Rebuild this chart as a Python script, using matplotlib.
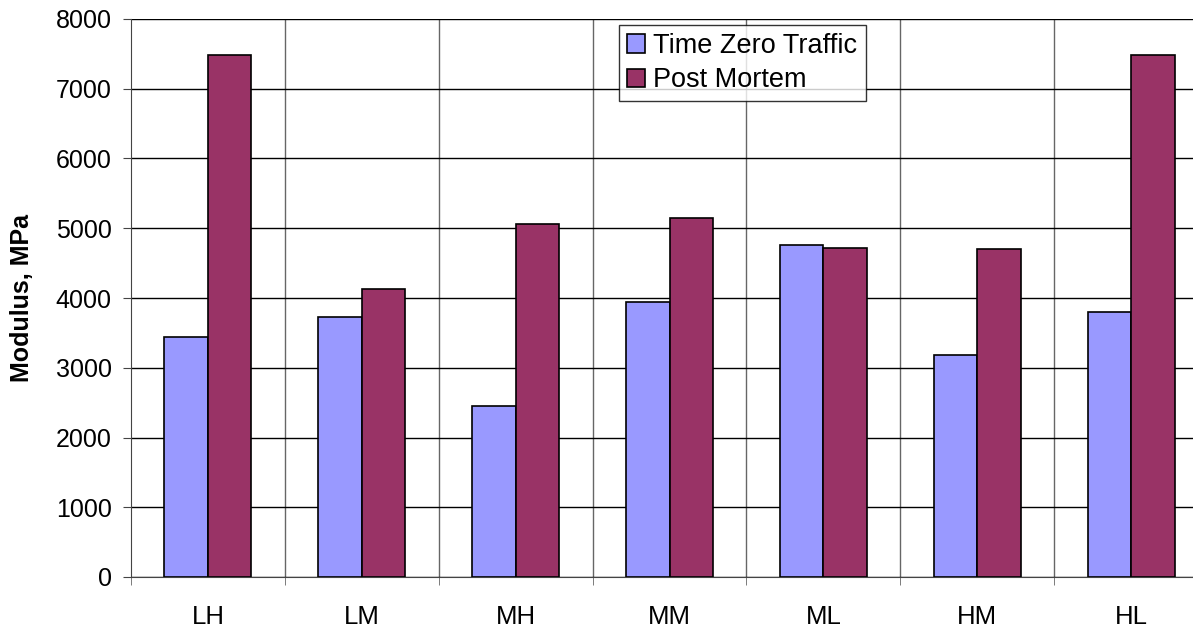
import matplotlib
matplotlib.use("Agg")
import matplotlib.pyplot as plt
import numpy as np

categories = ["LH", "LM", "MH", "MM", "ML", "HM", "HL"]
time_zero = [3445, 3730, 2450, 3940, 4755, 3180, 3795]
post_mortem = [7485, 4135, 5060, 5140, 4715, 4700, 7485]
series_names = ["Time Zero Traffic", "Post Mortem"]
colors = ["#9999FF", "#993366"]

plt.rcParams['font.family'] = ['Liberation Sans', 'DejaVu Sans']

fig = plt.figure(figsize=(11.93, 6.31), dpi=100)
ax = fig.add_axes([131/1193, 54/631, 1077/1193, 558/631])

x = np.arange(len(categories))
w = 0.283
ax.bar(x - w/2, time_zero, w, color=colors[0], edgecolor="black", linewidth=1.2, label=series_names[0], zorder=3)
ax.bar(x + w/2, post_mortem, w, color=colors[1], edgecolor="black", linewidth=1.2, label=series_names[1], zorder=3)

ax.set_xlim(-0.5, len(categories) - 0.5)
ax.set_ylim(0, 8000)
ax.set_yticks(np.arange(0, 8001, 1000))
ax.yaxis.grid(True, color="black", linewidth=1.0, zorder=0)
for b in np.arange(0.5, len(categories) - 0.5, 1.0):
    ax.axvline(b, color="#666666", linewidth=1.0, zorder=0)

ax.set_xticks(x)
ax.set_xticklabels(categories)
ax.set_xticks(np.arange(-0.5, len(categories) + 0.5, 1.0), minor=True)
ax.tick_params(axis="x", which="major", length=0, pad=20, labelsize=18.5)
ax.tick_params(axis="x", which="minor", length=6, color="#666666", direction="out")
ax.tick_params(axis="y", length=6, labelsize=18, direction="out", color="#444444", pad=8)

for s in ["top", "right"]:
    ax.spines[s].set_visible(False)
ax.spines["left"].set_color("#444444")
ax.spines["bottom"].set_color("#444444")

ax.set_ylabel("Modulus, MPa", fontsize=18, fontweight="bold")
ax.yaxis.set_label_coords((34 - 131) / 1077, 0.5)

leg = ax.legend(loc="upper left", bbox_to_anchor=((619-131)/1077, (631-25-54)/558),
                fontsize=19.5, frameon=True, fancybox=False, edgecolor="black",
                handlelength=0.67, handleheight=0.67, handletextpad=0.3, borderpad=0.3,
                labelspacing=0.3, borderaxespad=0)
leg.get_frame().set_linewidth(1.0)

fig.savefig("out.png", dpi=100)
